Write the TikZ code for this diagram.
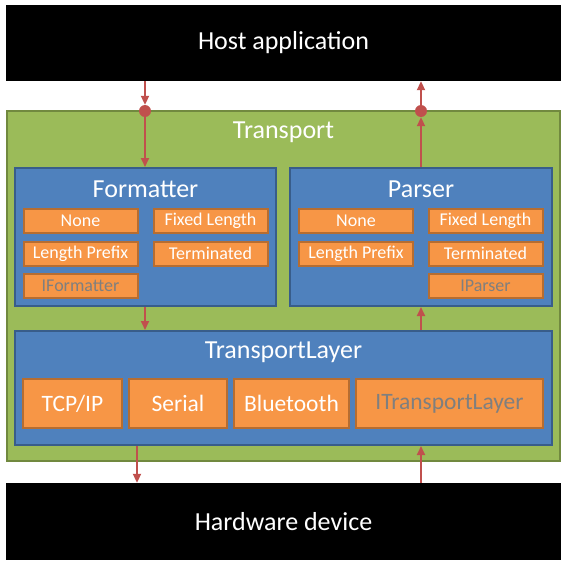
\documentclass[tikz,border=0pt]{standalone}
\usepackage{fontspec}
\setmainfont{Carlito}
\usetikzlibrary{arrows.meta}
\definecolor{grn}{HTML}{9BBB59}
\definecolor{grnb}{HTML}{71893F}
\definecolor{blu}{HTML}{4F81BD}
\definecolor{blub}{HTML}{385D8A}
\definecolor{org}{HTML}{F79646}
\definecolor{orgb}{HTML}{B66D31}
\definecolor{arr}{HTML}{C0504D}
\definecolor{gtxt}{HTML}{7F7F7F}
\tikzset{
  blackbox/.style={fill=black,draw=none,text=white,minimum width=555pt,minimum height=76pt,inner sep=0pt,font=\fontsize{26}{30}\selectfont},
  greenbox/.style={fill=grn,draw=grnb,line width=2pt,minimum width=553pt,minimum height=350pt,inner sep=0pt},
  bluebox/.style={fill=blu,draw=blub,line width=2pt,inner sep=0pt},
  smallbox/.style={fill=org,draw=orgb,line width=2pt,minimum width=114pt,minimum height=24pt,inner sep=0pt,text=white,font=\fontsize{18}{21}\selectfont},
  bigbox/.style={fill=org,draw=orgb,line width=2pt,minimum height=49pt,inner sep=0pt,text=white,font=\fontsize{23.5}{27}\selectfont},
  ghost/.style={text=gtxt},
  title/.style={text=white,inner sep=0pt,font=\fontsize{26}{30}\selectfont},
  conn/.style={draw=arr,line width=2pt,-{Triangle[width=8pt,length=9pt]}},
  dotc/.style={circle,fill=arr,minimum size=12pt,inner sep=0pt}
}
\begin{document}
\begin{tikzpicture}[x=1pt,y=-1pt]
\useasboundingbox (0,0) rectangle (566,565);
\node[blackbox] (host) at (283.5,43) {Host application};
\node[blackbox,minimum height=77pt] (hw) at (283.5,521.5) {Hardware device};
\node[greenbox] (transport) at (283.5,286) {};
\node[title] (ttitle) at (283.5,132) {Transport};
% Formatter
\node[bluebox,minimum width=261pt,minimum height=138pt] (fmt) at (145.5,237) {};
\node[title] (ftitle) at (145.5,189) {Formatter};
\node[smallbox] (fnone) at (80.5,221) {None};
\node[smallbox] (ffix) at (210.5,221) {Fixed Length};
\node[smallbox] (flp) at (80.5,253.5) {Length Prefix};
\node[smallbox] (fterm) at (210.5,253.5) {Terminated};
\node[smallbox,ghost] (fi) at (80.5,286) {IFormatter};
% Parser
\node[bluebox,minimum width=262pt,minimum height=138pt] (par) at (421,237) {};
\node[title] (ptitle) at (421,189) {Parser};
\node[smallbox] (pnone) at (356,221) {None};
\node[smallbox] (pfix) at (485.5,221) {Fixed Length};
\node[smallbox] (plp) at (356,253.5) {Length Prefix};
\node[smallbox] (pterm) at (485.5,253.5) {Terminated};
\node[smallbox,ghost] (pi) at (485.5,286) {IParser};
% TransportLayer
\node[bluebox,minimum width=537pt,minimum height=114pt] (tl) at (283.5,388) {};
\node[title] (tltitle) at (283.5,352) {TransportLayer};
\node[bigbox,minimum width=99pt] (tcp) at (72.5,403.5) {TCP/IP};
\node[bigbox,minimum width=98pt] (ser) at (178,403.5) {Serial};
\node[bigbox,minimum width=115pt] (bt) at (291.5,403.5) {Bluetooth};
\node[bigbox,ghost,minimum width=187pt] (itl) at (449.5,403.5) {ITransportLayer};
% connectors
\node[dotc] (dl) at (145,111) {};
\node[dotc] (dr) at (421,111) {};
\draw[conn] (host.south -| dl) -- (dl.north);
\draw[conn] (dl.south) -- (fmt.north -| dl);
\draw[conn] (par.north -| dr) -- (dr.south);
\draw[conn] (dr.north) -- (host.south -| dr);
\coordinate (c1) at (145,306);
\coordinate (c2) at (421,306);
\draw[conn] (fmt.south -| c1) -- (tl.north -| c1);
\draw[conn] (tl.north -| c2) -- (par.south -| c2);
\coordinate (c3) at (137,445);
\coordinate (c4) at (421,445);
\draw[conn] (tl.south -| c3) -- (hw.north -| c3);
\draw[conn] (hw.north -| c4) -- (tl.south -| c4);
\end{tikzpicture}
\end{document}
